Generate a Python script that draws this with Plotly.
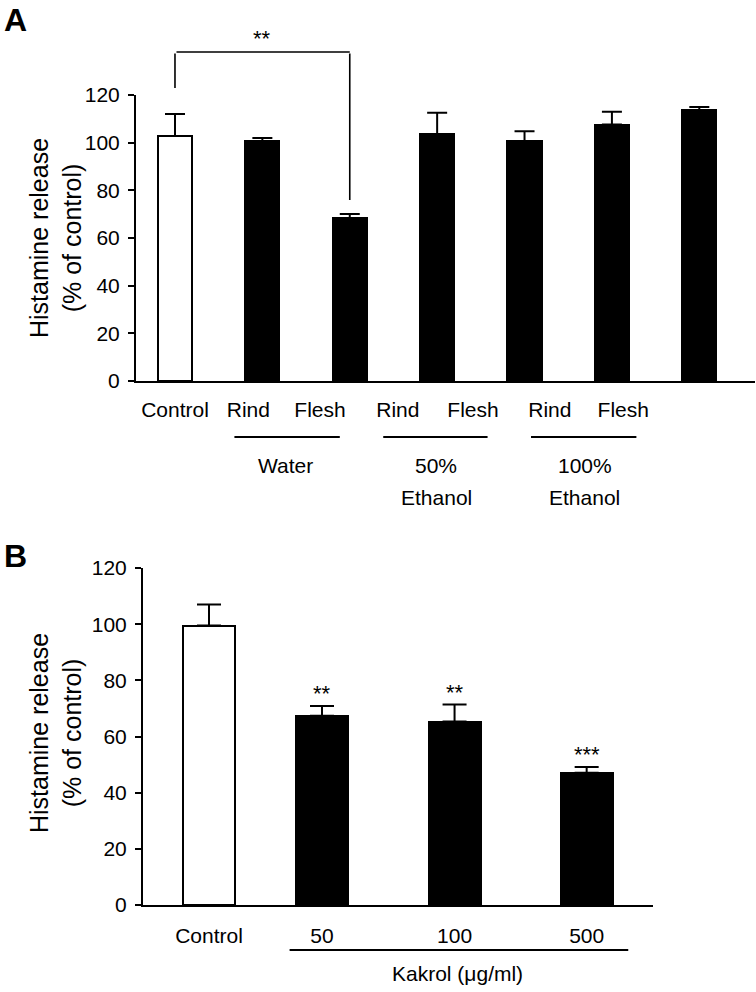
import plotly.graph_objects as go

# ---------------- data ----------------
# Panel A
a_labels = ["Control", "Rind", "Flesh", "Rind", "Flesh", "Rind", "Flesh"]
a_values = [102.8, 100.7, 68.4, 103.5, 100.7, 107.6, 113.7]
a_errors = [9.2, 1.3, 1.7, 9.1, 4.1, 5.4, 1.3]
a_groups = [["Water"], ["50%", "Ethanol"], ["100%", "Ethanol"]]
a_sig = "**"

# Panel B
b_labels = ["Control", "50", "100", "500"]
b_values = [99.5, 67.4, 65.3, 47.1]
b_errors = [7.5, 3.5, 6.1, 2.0]
b_stars = ["", "**", "**", "***"]
b_group = "Kakrol (μg/ml)"

y_ticks = [0, 20, 40, 60, 80, 100, 120]
y_title = "Histamine release<br>(% of control)"

# ---------------- layout positions ----------------
W, H = 756, 992
a_xpos = [0, 1, 2, 3, 4, 5, 6]
a_label_pos = [0, 0.84, 1.66, 2.55, 3.41, 4.29, 5.13]
a_group_lines = [(0.663, 1.886), (2.366, 3.577), (4.057, 5.28)]
a_group_x = [1.27, 2.99, 4.69]
b_xpos = [0, 1, 2.173, 3.342]

FONT = "Liberation Sans, Arial, sans-serif"


def py(px):
    """pixel row -> paper y"""
    return 1 - px / H


a_colors = ["white" if l == "Control" else "black" for l in a_labels]
b_colors = ["white" if l == "Control" else "black" for l in b_labels]

fig = go.Figure()
fig.add_trace(go.Bar(
    x=a_xpos, y=a_values, width=0.39,
    marker=dict(color=a_colors, line=dict(color="black", width=2)),
    error_y=dict(type="data", symmetric=False, array=a_errors,
                 arrayminus=[0] * len(a_errors), color="black",
                 thickness=2, width=10),
    xaxis="x", yaxis="y", showlegend=False, hoverinfo="skip"))
fig.add_trace(go.Bar(
    x=b_xpos, y=b_values, width=0.46,
    marker=dict(color=b_colors, line=dict(color="black", width=2)),
    error_y=dict(type="data", symmetric=False, array=b_errors,
                 arrayminus=[0] * len(b_errors), color="black",
                 thickness=2, width=12),
    xaxis="x2", yaxis="y2", showlegend=False, hoverinfo="skip"))

axis_common = dict(showgrid=False, zeroline=False, showline=True,
                   linecolor="black", linewidth=2, automargin=False,
                   tickfont=dict(family=FONT, size=21, color="black"))

fig.update_layout(
    width=W, height=H, autosize=False,
    margin=dict(l=0, r=0, t=0, b=0, pad=0, autoexpand=False),
    paper_bgcolor="white", plot_bgcolor="white",
    font=dict(family=FONT, color="black"),
    bargap=0,
    xaxis=dict(domain=[136 / W, 0.999], range=[-0.446, 6.64], anchor="y",
               tickmode="array", tickvals=a_label_pos, ticktext=a_labels,
               ticks="", ticklabelstandoff=9, **axis_common),
    yaxis=dict(domain=[py(381), py(95)], range=[0, 120], anchor="x",
               tickmode="array", tickvals=y_ticks, ticks="outside",
               ticklen=6, tickwidth=2, tickcolor="black",
               ticklabelstandoff=4, **axis_common),
    xaxis2=dict(domain=[143 / W, 653 / W], range=[-0.584, 3.929], anchor="y2",
                tickmode="array", tickvals=b_xpos, ticktext=b_labels,
                ticks="", ticklabelstandoff=11, **axis_common),
    yaxis2=dict(domain=[py(905), py(568)], range=[0, 120], anchor="x2",
                tickmode="array", tickvals=y_ticks, ticks="outside",
                ticklen=6, tickwidth=2, tickcolor="black",
                ticklabelstandoff=4, **axis_common),
)


def hline(x0, x1, ypx, xr, w=2):
    return dict(x=x1, y=py(ypx), xref=xr, yref="paper",
                ax=x0, axref=xr, ay=0, ayref="pixel",
                text="", showarrow=True, arrowhead=0, arrowwidth=w,
                arrowcolor="black", standoff=0, startstandoff=0)


def vline(x, y0px, y1px, xr, w=2):
    return dict(x=x, y=py(y1px), xref=xr, yref="paper",
                ax=0, axref="pixel", ay=y0px - y1px, ayref="pixel",
                text="", showarrow=True, arrowhead=0, arrowwidth=w,
                arrowcolor="black", standoff=0, startstandoff=0)


def label(text, x, ypx, xr, size=21, **kw):
    d = dict(text=text, x=x, y=py(ypx), xref=xr, yref="paper",
             xanchor="center", yanchor="middle", showarrow=False,
             font=dict(size=size, family=FONT, color="black"))
    d.update(kw)
    return d


ann = []
# panel letters
ann.append(label("<b>A</b>", 15 / W, 20, "paper", size=32))
ann.append(label("<b>B</b>", 15 / W, 556, "paper", size=32))
# y titles
for yc in (238, 733):
    ann.append(label(y_title, 55 / W, yc, "paper", size=25, textangle=-90))

# significance bracket panel A
ann.append(vline(a_xpos[0], 52, 88, "x", 1.6))
ann.append(hline(a_xpos[0], a_xpos[2], 52, "x", 1.6))
ann.append(vline(a_xpos[2], 52, 200, "x", 1.6))
ann.append(label(a_sig, (a_xpos[0] + a_xpos[2]) / 2, 38, "x", size=22))

# group lines and labels panel A
for (g0, g1), gx, lines in zip(a_group_lines, a_group_x, a_groups):
    ann.append(hline(g0, g1, 437, "x", 2))
    for i, t in enumerate(lines):
        ann.append(label(t, gx, 465 + 32 * i, "x"))

# panel B stars
for xp, v, e, s in zip(b_xpos, b_values, b_errors, b_stars):
    if s:
        ann.append(dict(text=s, x=xp, y=v + e - 0.8, xref="x2", yref="y2",
                        yanchor="bottom", showarrow=False,
                        font=dict(size=22, family=FONT, color="black")))

# group line panel B
ann.append(hline(0.70, 3.71, 950, "x2", 2))
ann.append(label(b_group, 2.20, 973, "x2"))

fig.update_layout(annotations=ann)
fig.write_html(
    "out.html",
    config={"displayModeBar": False},
    post_script=(
        "document.documentElement.style.margin='0px';"
        "document.body.style.margin='0px';"
        "document.documentElement.style.overflow='hidden';"
        "document.body.style.overflow='hidden';"
        "var d=document.getElementById('{plot_id}');"
        "d.style.position='fixed';d.style.top='0px';d.style.left='0px';"
    ),
)
